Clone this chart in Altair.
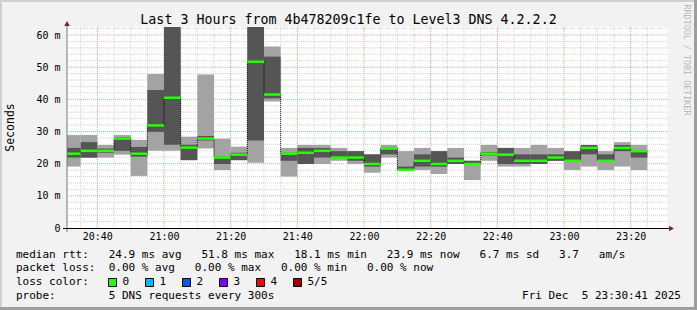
import altair as alt
import pandas as pd

# ---------------- data ----------------
times = ["20:30", "20:35", "20:40", "20:45", "20:50", "20:55", "21:00", "21:05",
         "21:10", "21:15", "21:20", "21:25", "21:30", "21:35", "21:40", "21:45",
         "21:50", "21:55", "22:00", "22:05", "22:10", "22:15", "22:20", "22:25",
         "22:30", "22:35", "22:40", "22:45", "22:50", "22:55", "23:00", "23:05",
         "23:10", "23:15", "23:20"]
rtt_min = [19.1, 21.8, 21.9, 22.8, 16.2, 24.0, 24.0, 21.1, 24.7, 18.0, 21.1, 20.3,
           39.3, 16.0, 19.9, 19.9, 20.9, 19.9, 17.2, 21.9, 18.0, 18.0, 16.8, 19.9,
           14.9, 20.9, 19.1, 19.1, 19.9, 20.9, 18.0, 19.1, 18.0, 19.1, 18.0]
rtt_p2 = [21.9, 21.9, 23.4, 24.0, 22.2, 29.9, 25.9, 21.1, 27.2, 19.9, 21.1, 27.2,
          40.3, 20.9, 19.9, 21.9, 21.9, 20.9, 19.1, 22.9, 18.0, 19.1, 19.1, 19.9,
          19.9, 22.6, 19.9, 19.9, 19.9, 20.9, 20.9, 22.9, 20.9, 23.9, 21.9]
rtt_median = [23.1, 24.0, 24.0, 27.8, 23.1, 31.9, 40.5, 25.0, 27.8, 21.9, 22.8, 51.7,
              41.5, 23.1, 23.4, 24.0, 21.9, 21.9, 19.9, 24.7, 18.1, 20.9, 19.9, 20.9,
              19.9, 23.1, 22.8, 20.9, 20.9, 21.9, 20.9, 24.9, 20.9, 24.9, 23.9]
rtt_p4 = [24.9, 26.7, 24.7, 28.2, 25.2, 42.9, 66.0, 25.9, 28.6, 22.2, 23.4, 66.0,
          53.3, 23.4, 24.9, 24.9, 23.9, 23.9, 22.9, 24.9, 19.1, 22.9, 23.9, 21.9,
          20.9, 23.6, 24.9, 22.9, 22.9, 22.9, 23.9, 25.8, 22.9, 25.8, 23.9]
rtt_max = [28.9, 28.9, 25.8, 28.9, 27.4, 47.9, 70.0, 28.4, 47.7, 27.8, 25.3, 70.0,
           56.4, 24.9, 25.8, 25.8, 24.9, 23.9, 22.9, 25.8, 23.9, 24.9, 23.9, 24.9,
           20.9, 25.8, 24.9, 24.9, 25.8, 24.9, 23.9, 25.8, 23.9, 26.7, 25.8]

title_text = "Last 3 Hours from 4b478209c1fe to Level3 DNS 4.2.2.2"
legend_lines = [
    "median rtt:   24.9 ms avg   51.8 ms max   18.1 ms min   23.9 ms now   6.7 ms sd   3.7   am/s",
    "packet loss:  0.00 % avg   0.00 % max   0.00 % min   0.00 % now",
    "loss color:",
    "probe:        5 DNS requests every 300s",
]
loss_labels = ["0", "1", "2", "3", "4", "5/5"]
loss_colors = ["#26ff00", "#00b8ff", "#0059ff", "#7e00ff", "#ff0000", "#a10000"]
date_text = "Fri Dec  5 23:30:41 2025"
watermark = "RRDTOOL / TOBI OETIKER"

# ---------------- geometry ----------------
W, H = 697, 310
PL, PT = 67, 27          # plot origin in the image
PW, PH = 601, 201        # plot area size
MONO = "DejaVu Sans Mono"
NBSP = "\u00a0"

mins = [int(t[:2]) * 60 + int(t[3:]) - 20 * 60 for t in times]
df = pd.DataFrame({
    "start": mins,
    "end": [m + 5 for m in mins],
    "lo": rtt_min, "p2": rtt_p2, "med": rtt_median, "p4": rtt_p4, "hi": rtt_max,
})
step_df = pd.DataFrame({
    "t": mins + [mins[-1] + 5],
    "v": rtt_median + [rtt_median[-1]],
})

xscale = alt.Scale(domain=[30.9, 211.2], nice=False, zero=False)
yscale = alt.Scale(domain=[0, 62.5], nice=False, zero=False)

xaxis = alt.Axis(values=list(range(40, 201, 20)), title=None, grid=False, ticks=False,
                 domain=False, labelFont=MONO, labelFontSize=10, labelColor="#000",
                 labelPadding=3, labelFlush=False, labelOverlap=False,
                 labelExpr="(20 + floor(datum.value/60)) + ':' + (datum.value % 60 < 10 ? '0' : '') + (datum.value % 60)")
yaxis = alt.Axis(values=list(range(0, 61, 10)), title=None, grid=False, ticks=False,
                 domain=False, labelFont=MONO, labelFontSize=10, labelColor="#000",
                 labelPadding=7, labelFlush=False, labelOverlap=False,
                 labelExpr="datum.value == 0 ? '0' : datum.value + '\u00a0m'")

one = pd.DataFrame({"k": [0]})


def px(x):
    return x - PL


def py(y):
    return y - PT


def txt(s, x, y, size=11, align="left", color="#000", angle=0, baseline="middle"):
    return alt.Chart(one).mark_text(
        text=s.replace(" ", NBSP), align=align, baseline=baseline, fontSize=size, font=MONO,
        color=color, angle=angle
    ).encode(x=alt.value(px(x)), y=alt.value(py(y)))


def box(x1, x2, y1, y2, color, stroke=None):
    kw = {"color": color}
    if stroke:
        kw.update(stroke=stroke, strokeWidth=1)
    return alt.Chart(one).mark_rect(**kw).encode(
        x=alt.value(px(x1)), x2=alt.value(px(x2)),
        y=alt.value(py(y1)), y2=alt.value(py(y2)))


# ---------------- grid ----------------
ygrid_minor = pd.DataFrame({"v": [v for v in range(2, 63, 2) if v % 10]})
ygrid_major = pd.DataFrame({"v": list(range(10, 61, 10))})
xgrid_minor = pd.DataFrame({"t": [t for t in range(35, 210, 5) if t % 20]})
xgrid_major = pd.DataFrame({"t": list(range(40, 201, 20))})

g_ymin = alt.Chart(ygrid_minor).mark_rule(color="#8f8f8f", opacity=0.4, strokeDash=[1, 1], strokeWidth=1).encode(
    y=alt.Y("v:Q", scale=yscale, axis=yaxis), x=alt.value(0), x2=alt.value(PW))
g_ymaj = alt.Chart(ygrid_major).mark_rule(color="#de4f4f", opacity=0.55, strokeDash=[1, 1], strokeWidth=1).encode(
    y=alt.Y("v:Q", scale=yscale, axis=yaxis), x=alt.value(0), x2=alt.value(PW))
g_xmin = alt.Chart(xgrid_minor).mark_rule(color="#8f8f8f", opacity=0.4, strokeDash=[1, 1], strokeWidth=1).encode(
    x=alt.X("t:Q", scale=xscale, axis=xaxis), y=alt.value(0), y2=alt.value(PH))
g_xmaj = alt.Chart(xgrid_major).mark_rule(color="#de4f4f", opacity=0.55, strokeDash=[1, 1], strokeWidth=1).encode(
    x=alt.X("t:Q", scale=xscale, axis=xaxis), y=alt.value(0), y2=alt.value(PH))

# ---------------- smoke + median ----------------
base = alt.Chart(df)
light = base.mark_rect(color="#a3a3a3", clip=True).encode(
    x=alt.X("start:Q", scale=xscale, axis=xaxis), x2="end:Q",
    y=alt.Y("lo:Q", scale=yscale, axis=yaxis), y2="hi:Q")
dark = base.mark_rect(color="#555555", clip=True).encode(
    x=alt.X("start:Q", scale=xscale, axis=xaxis), x2="end:Q",
    y=alt.Y("p2:Q", scale=yscale, axis=yaxis), y2="p4:Q")
step = alt.Chart(step_df).mark_line(interpolate="step-after", color="#000", strokeWidth=1,
                                    strokeDash=[1, 1], clip=True).encode(
    x=alt.X("t:Q", scale=xscale, axis=xaxis), y=alt.Y("v:Q", scale=yscale, axis=yaxis))
median = base.mark_rule(color="#26ff00", strokeWidth=2.5, clip=True).encode(
    x=alt.X("start:Q", scale=xscale, axis=xaxis), x2="end:Q",
    y=alt.Y("med:Q", scale=yscale, axis=yaxis))

# ---------------- axes lines and arrows ----------------
yline = alt.Chart(one).mark_rule(color="#777", strokeWidth=1).encode(
    x=alt.value(0), y=alt.value(py(24)), y2=alt.value(py(232)))
xline = alt.Chart(one).mark_rule(color="#000", strokeWidth=1).encode(
    x=alt.value(px(63)), x2=alt.value(px(669)), y=alt.value(PH + 0.5))
xarrow = alt.Chart(one).mark_point(shape="triangle-right", filled=True, size=32,
                                   color="#801f1f", opacity=1).encode(
    x=alt.value(px(671.5)), y=alt.value(PH + 0.5))
yarrow = alt.Chart(one).mark_point(shape="triangle-up", filled=True, size=32,
                                   color="#801f1f", opacity=1).encode(
    x=alt.value(0), y=alt.value(py(23.5)))

# ---------------- frame ----------------
frame = [
    box(0, W, 0, 2, "#cfcfcf"),
    box(0, 2, 0, H, "#cfcfcf"),
    box(W - 3, W, 0, H, "#9e9e9e"),
    box(0, W, H - 3, H, "#9e9e9e"),
]

# ---------------- texts ----------------
texts = [
    txt(title_text, 348.5, 19.5, size=13.3, align="center"),
    txt("Seconds", 10.5, 127.5, size=11.5, align="center", angle=270),
    txt(watermark, 687, 60, size=8.4, align="center", angle=90, color="#b8b8b8"),
    txt(legend_lines[0], 16, 254.5),
    txt(legend_lines[1], 16, 268.3),
    txt(legend_lines[2], 16, 282.3),
    txt(legend_lines[3], 16, 296.2),
    txt(date_text, 681, 296.2, align="right"),
]
box_x = [108.5, 145.5, 182.5, 219.5, 256.5, 293.5]
for bx, lab, col in zip(box_x, loss_labels, loss_colors):
    texts.append(box(bx, bx + 8, 278.5, 286.5, col, stroke="#000"))
    texts.append(txt(lab, bx + 14, 282.3))

layers = [g_ymin, g_xmin, g_ymaj, g_xmaj, light, dark, step, median,
          yline, xline, xarrow, yarrow] + frame + texts

chart = alt.layer(*layers).properties(
    width=PW, height=PH,
    autosize=alt.AutoSizeParams(type="none"),
    padding={"left": PL, "top": PT, "right": W - PL - PW, "bottom": H - PT - PH},
    background="#f2f2f2",
).configure_view(fill="#ffffff", stroke=None)

chart.save("out.html", embed_options={"renderer": "svg", "actions": False})
